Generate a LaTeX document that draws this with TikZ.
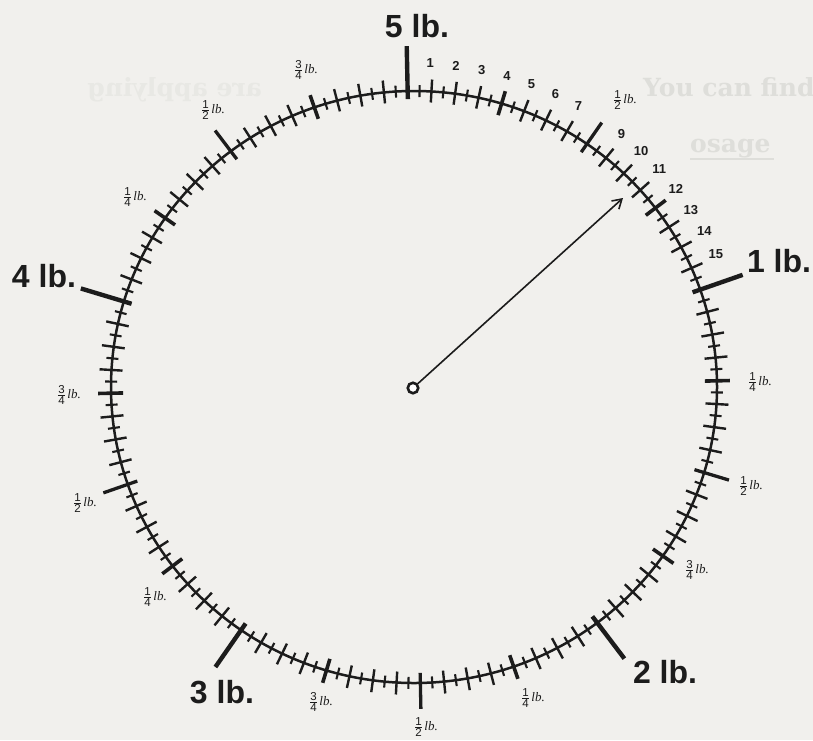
\documentclass[tikz,border=0pt]{standalone}
\usepackage{fontspec}
\setmainfont{Liberation Serif}
\setsansfont{Liberation Sans}
\newfontfamily\ghostfont{DejaVu Serif}
\usetikzlibrary{arrows.meta}
\definecolor{bg}{RGB}{241,240,237}
\definecolor{ink}{RGB}{28,28,28}
\definecolor{ghost}{RGB}{222,222,218}
\definecolor{ghostB}{RGB}{232,232,228}
\newcommand\frlb[2]{{\fontsize{11.5}{11.5}\selectfont\sffamily$\frac{\mbox{#1}}{\mbox{#2}}$}\kern1.5pt{\fontsize{13}{13}\selectfont\itshape lb.}}
\tikzset{
  poundlbl/.style={font=\fontsize{32}{32}\selectfont\sffamily\bfseries, text=ink, inner sep=0pt},
  ozlbl/.style={font=\fontsize{13}{13}\selectfont\sffamily\bfseries, text=ink, inner sep=0pt},
  fraclbl/.style={text=ink, inner sep=0pt},
  ghosttxt/.style={font=\fontsize{25}{25}\selectfont\ghostfont\bfseries, text=ghost, inner sep=0pt},
}
\begin{document}
\begin{tikzpicture}[x=1pt, y=-1pt]
\useasboundingbox (0,0) rectangle (813,740);
\fill[bg] (0,0) rectangle (813,740);
% faint show-through text
\node[ghosttxt, anchor=base west] (g1) at (643,96) {You can find};
\node[ghosttxt, anchor=base west] (g2) at (690,152) {osage};
\draw[ghost, line width=2pt] (690,159) -- (774,159);
\node[ghosttxt, text=ghostB, xscale=-1, anchor=base west] (g3) at (262,96) {are applying};
% dial circle
\draw[ink, line width=2.5pt] (414,387) ellipse [x radius=303, y radius=296];
% ticks
\foreach \i in {0,...,159}{
  \pgfmathtruncatemacro\mA{mod(\i,2)}
  \pgfmathtruncatemacro\mB{mod(\i,8)}
  \pgfmathtruncatemacro\mC{mod(\i,16)}
  \pgfmathtruncatemacro\mD{mod(\i,32)}
  \def\din{-6}\def\dout{6}\def\lw{2.1}
  \ifnum\mA=0 \def\din{-11}\def\dout{12}\def\lw{2.4}\fi
  \ifnum\mB=0 \def\din{-12}\def\dout{13}\def\lw{3.6}\fi
  \ifnum\mC=0 \def\din{-10}\def\dout{26}\def\lw{3.3}\fi
  \ifnum\mD=0 \def\din{-8}\def\dout{45}\def\lw{4.4}\fi
  \pgfmathsetmacro\a{91.2-2.25*\i}
  \draw[ink, line width=\lw pt] ({414+(303+\din)*cos(\a)},{387-(296+\din)*sin(\a)}) -- ({414+(303+\dout)*cos(\a)},{387-(296+\dout)*sin(\a)});
}
% ounce numbers of the first pound
\foreach \k in {1,2,3,4,5,6,7,9,10,11,12,13,14,15}{
  \pgfmathsetmacro\b{91.7-4.5*\k}
  \node[ozlbl] (oz\k) at ({414+331*cos(\b)},{387-324*sin(\b)}) {\k};
}
% pound labels
\node[poundlbl] (p5) at (417,26) {5 lb.};
\node[poundlbl] (p1) at (779,261) {1 lb.};
\node[poundlbl] (p2) at (665,672) {2 lb.};
\node[poundlbl] (p3) at (222,692) {3 lb.};
\node[poundlbl] (p4) at (44,276) {4 lb.};
% fraction labels
\node[fraclbl] (f08) at (625,100) {\frlb{1}{2}};
\node[fraclbl] (f14) at (760,382) {\frlb{1}{4}};
\node[fraclbl] (f18) at (751,486) {\frlb{1}{2}};
\node[fraclbl] (f112) at (697,570) {\frlb{3}{4}};
\node[fraclbl] (f24) at (533,698) {\frlb{1}{4}};
\node[fraclbl] (f28) at (426,727) {\frlb{1}{2}};
\node[fraclbl] (f212) at (321,702) {\frlb{3}{4}};
\node[fraclbl] (f34) at (155,597) {\frlb{1}{4}};
\node[fraclbl] (f38) at (85,503) {\frlb{1}{2}};
\node[fraclbl] (f312) at (69,395) {\frlb{3}{4}};
\node[fraclbl] (f44) at (135,197) {\frlb{1}{4}};
\node[fraclbl] (f48) at (213,110) {\frlb{1}{2}};
\node[fraclbl] (f412) at (306,70) {\frlb{3}{4}};
% pointer
\node[circle, draw=ink, line width=2.6pt, fill=white, minimum size=10.5pt, inner sep=0pt] (hub) at (413,388) {};
\coordinate (tip) at (623,198);
\draw[ink, line width=1.6pt, -{Straight Barb[length=9pt,width=11pt]}] (hub) -- (tip);
\end{tikzpicture}
\end{document}
